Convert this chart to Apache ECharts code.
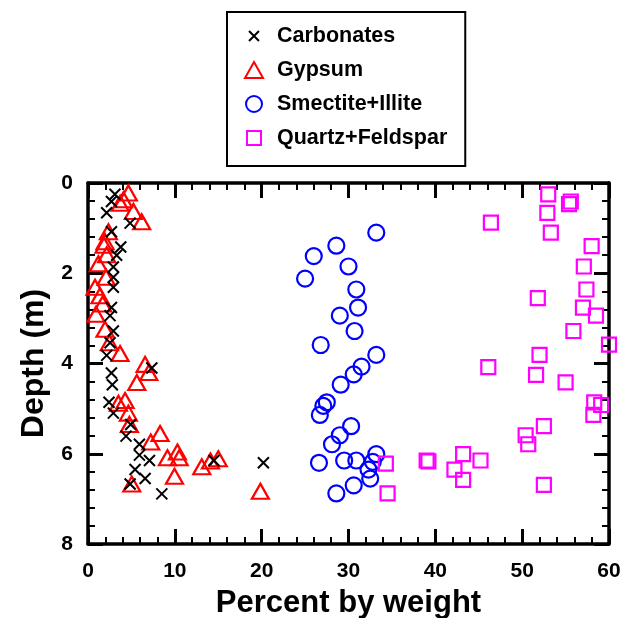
<!DOCTYPE html>
<html>
<head>
<meta charset="utf-8">
<script src="https://cdn.jsdelivr.net/npm/echarts@6/dist/echarts.min.js"></script>
<style>
  html, body { margin: 0; padding: 0; background: #fff; }
  #chart { width: 623px; height: 618px; }
</style>
</head>
<body>
<div id="chart"></div>
<script>
// Mineral composition against depth: each series is [percent by weight, depth in m]
const carbonates = [
  [3.1, 0.25], [2.7, 0.41], [2.15, 0.66], [4.85, 0.89], [2.7, 1.08], [3.77, 1.42],
  [3.3, 1.6], [2.92, 1.86], [2.92, 2.09], [2.92, 2.31], [2.7, 2.76], [2.54, 2.94],
  [2.92, 3.28], [2.54, 3.54], [2.15, 3.82], [7.35, 4.1], [2.7, 4.21], [2.8, 4.47],
  [2.42, 4.86], [2.92, 5.1], [4.92, 5.35], [4.38, 5.61], [5.92, 5.79], [5.92, 6.03],
  [7.08, 6.15], [5.42, 6.35], [6.58, 6.55], [4.85, 6.67], [8.5, 6.89], [20.2, 6.2],
  [14.5, 6.15]
];
const gypsum = [
  [4.65, 0.22], [4.08, 0.37], [3.7, 0.45], [5.23, 0.63], [6.18, 0.86], [2.35, 1.08],
  [1.96, 1.3], [1.85, 1.38], [2.15, 1.59], [1.19, 1.79], [2.08, 2.09], [0.81, 2.31],
  [1.38, 2.5], [1.69, 2.68], [0.92, 2.91], [1.96, 3.24], [2.46, 3.54], [3.69, 3.78],
  [6.58, 4.02], [7.0, 4.2], [5.62, 4.42], [3.5, 4.88], [4.27, 4.82], [4.65, 5.1],
  [4.77, 5.35], [8.3, 5.55], [7.23, 5.74], [9.15, 6.09], [10.3, 5.96], [10.5, 6.09],
  [13.1, 6.29], [14.1, 6.16], [15.0, 6.11], [9.96, 6.5], [5.04, 6.67], [19.85, 6.83]
];
const smectiteIllite = [
  [33.2, 1.1], [28.6, 1.39], [26.0, 1.62], [30.0, 1.85], [25.0, 2.12], [30.9, 2.36],
  [31.1, 2.76], [29.0, 2.94], [30.7, 3.28], [26.8, 3.59], [33.2, 3.81], [31.5, 4.07],
  [30.6, 4.24], [29.1, 4.47], [27.5, 4.86], [27.1, 4.94], [26.7, 5.14], [30.3, 5.39],
  [29.0, 5.59], [28.1, 5.79], [26.6, 6.2], [29.5, 6.15], [30.9, 6.15], [33.2, 6.01],
  [32.8, 6.18], [32.3, 6.35], [32.5, 6.55], [30.6, 6.7], [28.6, 6.88]
];
const quartzFeldspar = [
  [53.0, 0.25], [55.6, 0.41], [55.4, 0.47], [52.9, 0.66], [46.4, 0.88], [53.3, 1.1],
  [58.0, 1.4], [57.1, 1.85], [57.4, 2.36], [51.8, 2.55], [57.0, 2.76], [58.5, 2.94],
  [55.9, 3.28], [60.0, 3.58], [52.0, 3.81], [46.1, 4.08], [51.6, 4.25], [55.0, 4.42],
  [58.3, 4.86], [59.1, 4.92], [58.2, 5.14], [52.5, 5.39], [50.4, 5.59], [50.7, 5.79],
  [39.0, 6.15], [39.2, 6.17], [43.2, 6.01], [45.2, 6.15], [42.2, 6.35], [43.2, 6.58],
  [52.5, 6.69], [34.3, 6.22], [34.5, 6.88]
];
const seriesNames = ['Carbonates', 'Gypsum', 'Smectite+Illite', 'Quartz+Feldspar'];
const xTicks = [0, 10, 20, 30, 40, 50, 60];
const yTicks = [0, 2, 4, 6, 8];

const FONT = '"Liberation Sans", Arial, Helvetica, sans-serif';
const CROSS = 'path://M0,0L10,10M10,0L0,10';
// legend icons are drawn inside a padded 20x20 box so each keeps its own size
const CROSS_LEGEND = 'path://M0,0M20,20M5,5L15,15M15,5L5,15';
const SQUARE_LEGEND = 'path://M0,0M20,20M3,3H17V17H3Z';
const TRI_LEGEND = 'path://M0,0M20,20M10,2L19,18H1Z';
const CIRCLE_LEGEND = 'path://M0,0M20,20M18,10A8,8 0 1,1 2,10A8,8 0 1,1 18,10Z';

function axisCommon(showLabels) {
  return {
    type: 'value',
    axisLine: { show: true, onZero: false, lineStyle: { color: '#000', width: 3.5 } },
    axisTick: { show: true, inside: true, length: 15, lineStyle: { color: '#000', width: 3 } },
    minorTick: { show: true, splitNumber: 5, length: 7, lineStyle: { color: '#000', width: 2 } },
    splitLine: { show: false },
    minorSplitLine: { show: false },
    axisLabel: {
      show: showLabels, margin: 15, color: '#000',
      fontFamily: FONT, fontWeight: 'bold', fontSize: 21
    }
  };
}

const chart = echarts.init(document.getElementById('chart'), null, { renderer: 'canvas' });

const hollow = (c, w) => ({ color: 'rgba(0,0,0,0)', borderColor: c, borderWidth: w, opacity: 1 });

chart.setOption({
  backgroundColor: '#fff',
  animation: false,
  grid: { left: 88, right: 14, top: 183, bottom: 74, containLabel: false, outerBoundsMode: 'none' },
  legend: {
    orient: 'vertical',
    left: 227, top: 12,
    padding: [13, 18, 17, 16],
    itemGap: 12,
    itemWidth: 20, itemHeight: 20,
    borderColor: '#000', borderWidth: 2,
    backgroundColor: '#fff',
    textStyle: { fontFamily: FONT, fontWeight: 'bold', fontSize: 21.5, color: '#000',
                 lineHeight: 20, padding: [0, 0, 0, 8] },
    data: [
      { name: seriesNames[0], icon: CROSS_LEGEND, itemStyle: hollow('#000', 2) },
      { name: seriesNames[1], icon: TRI_LEGEND, itemStyle: hollow('#ff0000', 2) },
      { name: seriesNames[2], icon: CIRCLE_LEGEND, itemStyle: hollow('#0000ff', 2) },
      { name: seriesNames[3], icon: SQUARE_LEGEND, itemStyle: hollow('#ff00ff', 2) }
    ],
    selectedMode: false
  },
  xAxis: [
    Object.assign(axisCommon(true), {
      position: 'bottom', min: xTicks[0], max: xTicks[xTicks.length - 1], interval: 10,
      axisLabel: Object.assign(axisCommon(true).axisLabel, { margin: 17 }),
      name: 'Percent by weight', nameLocation: 'middle', nameGap: 44,
      nameTextStyle: { fontFamily: FONT, fontWeight: 'bold', fontSize: 31, color: '#000' }
    }),
    Object.assign(axisCommon(false), {
      position: 'top', min: xTicks[0], max: xTicks[xTicks.length - 1], interval: 10
    })
  ],
  yAxis: [
    Object.assign(axisCommon(true), {
      position: 'left', inverse: true, min: yTicks[0], max: yTicks[yTicks.length - 1], interval: 2,
      name: 'Depth (m)', nameLocation: 'middle', nameGap: 37, nameRotate: 90,
      nameTextStyle: { fontFamily: FONT, fontWeight: 'bold', fontSize: 32, color: '#000' }
    }),
    Object.assign(axisCommon(false), {
      position: 'right', inverse: true, min: yTicks[0], max: yTicks[yTicks.length - 1], interval: 2
    })
  ],
  series: [
    { name: seriesNames[0], type: 'scatter', data: carbonates, symbol: CROSS, symbolSize: 11,
      itemStyle: hollow('#000', 2), z: 4 },
    { name: seriesNames[1], type: 'scatter', data: gypsum, symbol: 'triangle', symbolSize: [17, 15],
      itemStyle: hollow('#ff0000', 2.2), z: 3 },
    { name: seriesNames[2], type: 'scatter', data: smectiteIllite, symbol: 'circle', symbolSize: 16,
      itemStyle: hollow('#0000ff', 2.2), z: 3 },
    { name: seriesNames[3], type: 'scatter', data: quartzFeldspar, symbol: 'rect', symbolSize: 14,
      itemStyle: hollow('#ff00ff', 2.2), z: 3 }
  ]
});
</script>
</body>
</html>
